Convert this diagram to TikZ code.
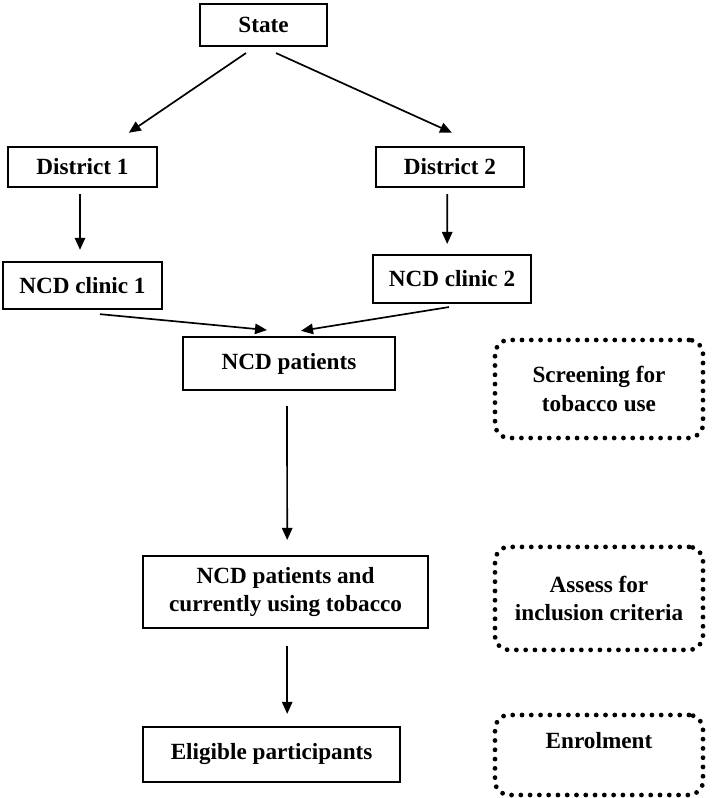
\documentclass[tikz,border=0pt]{standalone}
\usepackage{fontspec}
\setmainfont{Liberation Serif}
\usepackage{tikz}
\usetikzlibrary{arrows.meta, positioning, calc}

\begin{document}
\begin{tikzpicture}[
        box/.style={rectangle, draw, line width=1.5pt, align=center, font=\fontsize{16.5}{20}\selectfont\bfseries, inner sep=2pt},
        dotbox/.style={rectangle, draw, rounded corners=0.35cm, line width=3.4pt, line cap=round, dash pattern=on 0pt off 6.6pt, minimum width=5.2cm, align=center, font=\fontsize{16.5}{20}\selectfont\bfseries},
        arrow/.style={-{Triangle[length=0.3cm, width=0.26cm]}, line width=1.2pt}
    ]
        \useasboundingbox (0,0) rectangle (17.8,-19.95);

        % State and districts
        \node[box, minimum width=3.175cm, minimum height=1.05cm] (st) at (6.59,-0.625) {State};
        \node[box, minimum width=3.725cm, minimum height=1.0cm] (d1) at (2.06,-4.175) {District 1};
        \node[box, minimum width=3.7cm, minimum height=1.0cm] (d2) at (11.25,-4.175) {District 2};
        \draw[arrow] ([shift={(-0.44,-0.15)}]st.south) -- ([shift={(1.16,0.33)}]d1.north);
        \draw[arrow] ([shift={(0.31,-0.15)}]st.south) -- ([shift={(0.05,0.33)}]d2.north);

        % Clinics
        \node[box, minimum width=3.975cm, minimum height=1.175cm] (c1) at (2.06,-7.14) {NCD clinic 1};
        \node[box, minimum width=3.95cm, minimum height=1.2cm] (c2) at (11.3,-6.975) {NCD clinic 2};
        \draw[arrow] ([shift={(-0.06,-0.15)}]d1.south) -- ([shift={(-0.06,0.28)}]c1.north);
        \draw[arrow] ([shift={(-0.07,-0.15)}]d2.south) -- ([shift={(-0.12,0.25)}]c2.north);

        % Patients
        \node[box, minimum width=5.3cm, minimum height=1.325cm] (pat) at (7.225,-9.09) {NCD patients};
        \draw[arrow] ([shift={(0.44,-0.1)}]c1.south) -- ([shift={(-0.55,0.15)}]pat.north);
        \draw[arrow] ([shift={(-0.075,-0.075)}]c2.south) -- ([shift={(0.3,0.13)}]pat.north);

        \node[box, minimum width=7.125cm, minimum height=1.8cm] (tob) at (7.14,-14.8) {NCD patients and\\currently using tobacco};
        \draw[arrow] ([shift={(-0.05,-0.375)}]pat.south) -- ([shift={(0.04,0.375)}]tob.north);

        \node[box, minimum width=6.425cm, minimum height=1.375cm] (elig) at (6.79,-18.86) {Eligible participants};
        \draw[arrow] ([shift={(0.04,-0.43)}]tob.south) -- ($(tob.south |- elig.north)+(0.04,0.3)$);

        % Steps on the right
        \node[dotbox, minimum height=2.45cm] (scr) at (14.975,-9.725) {Screening for\\tobacco use};
        \node[dotbox, minimum height=2.575cm] (ass) at (14.975,-14.96) {Assess for\\inclusion criteria};
        \node[dotbox, minimum height=2.0cm, text depth=0.73cm] (enr) at (14.975,-18.875) {Enrolment};
    \end{tikzpicture}
\end{document}
